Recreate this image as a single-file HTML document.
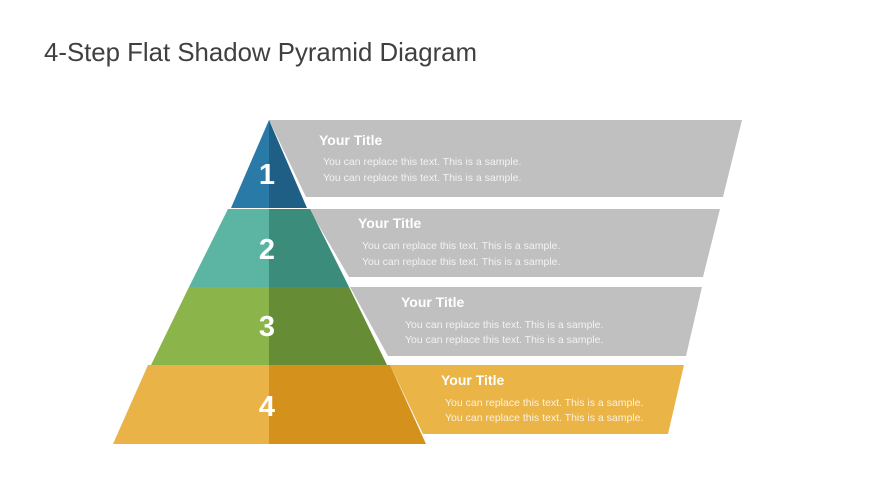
<!DOCTYPE html>
<html><head><style>
body{margin:0;width:870px;height:489px;background:#fff;overflow:hidden;font-family:"Liberation Sans",sans-serif}
</style></head><body>
<svg width="870" height="489" xmlns="http://www.w3.org/2000/svg">
<text x="44" y="61" font-size="25.8" fill="#404040" font-family="Liberation Sans, sans-serif">4-Step Flat Shadow Pyramid Diagram</text>
<!-- panels -->
<polygon points="269,120 742,120 723,197 306,197" fill="#c0c0c0"/>
<polygon points="309,209 720,209 703,277 349,277" fill="#c0c0c0"/>
<polygon points="350,287 702,287 686,356 388,356" fill="#c0c0c0"/>
<polygon points="390,365 684,365 668,434 423,434" fill="#ebb447"/>
<!-- pyramid -->
<polygon points="269,120 269,208 231,208" fill="#2a7aa8"/>
<polygon points="269,120 307,208 269,208" fill="#1f5f85"/>
<polygon points="269,209 269,287 189,287 228,209" fill="#5bb5a2"/>
<polygon points="269,209 310,209 349,287 269,287" fill="#3b8c7b"/>
<polygon points="269,287 269,365 151,365 189,287" fill="#8bb54a"/>
<polygon points="269,287 349,287 387,365 269,365" fill="#668c36"/>
<polygon points="269,365 269,444 113,444 148,365" fill="#eab348"/>
<polygon points="269,365 390,365 426,444 269,444" fill="#d4921c"/>
<g font-family="Liberation Sans, sans-serif" font-weight="bold" fill="#fff" font-size="29" text-anchor="middle">
<text x="267" y="184">1</text><text x="267" y="259">2</text><text x="267" y="336">3</text><text x="267" y="416">4</text>
</g>
<g font-family="Liberation Sans, sans-serif" fill="#fff">
<text x="319" y="145" font-size="14" font-weight="bold">Your Title</text>
<text x="323" y="165" font-size="10.5" fill="#f2f2f2">You can replace this text. This is a sample.</text>
<text x="323" y="181" font-size="10.5" fill="#f2f2f2">You can replace this text. This is a sample.</text>
<text x="358" y="228" font-size="14" font-weight="bold">Your Title</text>
<text x="362" y="249" font-size="10.5" fill="#f2f2f2">You can replace this text. This is a sample.</text>
<text x="362" y="265" font-size="10.5" fill="#f2f2f2">You can replace this text. This is a sample.</text>
<text x="401" y="307" font-size="14" font-weight="bold">Your Title</text>
<text x="405" y="328" font-size="10.5" fill="#f2f2f2">You can replace this text. This is a sample.</text>
<text x="405" y="343" font-size="10.5" fill="#f2f2f2">You can replace this text. This is a sample.</text>
<text x="441" y="385" font-size="14" font-weight="bold">Your Title</text>
<text x="445" y="406" font-size="10.5" fill="#fbf2dd">You can replace this text. This is a sample.</text>
<text x="445" y="421" font-size="10.5" fill="#fbf2dd">You can replace this text. This is a sample.</text>
</g>
</svg>
</body></html>
